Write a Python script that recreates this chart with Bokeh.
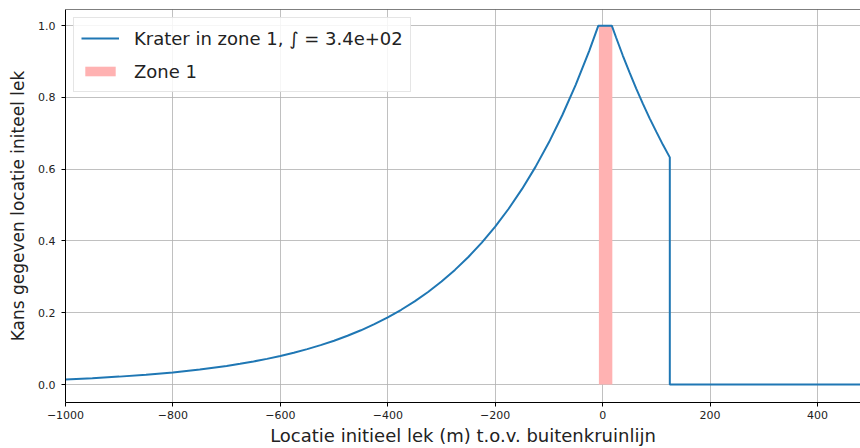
from bokeh.plotting import figure
from bokeh.models import Range1d, FixedTicker, Legend, LegendItem, Span, ColumnDataSource
from bokeh.embed import file_html
from bokeh.resources import INLINE

# ---- data ----
locatie = [-1000, -950, -900, -850, -800, -750, -700, -675, -650, -625, -600, -575, -550, -525,
           -500, -475, -450, -425, -400, -375, -350, -325, -300, -275, -250, -225, -200,
           -175, -150, -125, -100, -75, -50, -25, -8,
           17, 25, 37.5, 50, 62.5, 75, 87.5, 100, 112.5, 125, 125, 480]
kans = [0.0144, 0.0179, 0.0221, 0.0274, 0.0339, 0.0420, 0.0520, 0.0578, 0.0643, 0.0716, 0.0797, 0.0886, 0.0987, 0.1098,
        0.1221, 0.1359, 0.1512, 0.1683, 0.1873, 0.2084, 0.2318, 0.2580, 0.2871, 0.3195, 0.3555, 0.3956, 0.4402,
        0.4898, 0.5451, 0.6065, 0.6749, 0.7510, 0.8357, 0.9299, 1.0,
        1.0, 0.967, 0.9168, 0.870, 0.8246, 0.782, 0.7418, 0.704, 0.6672, 0.633, 0.0, 0.0]

zone_left = [-7]
zone_right = [18]
zone_bottom = [0.0]
zone_top = [1.0]

x_ticks = [-1000, -800, -600, -400, -200, 0, 200, 400]
x_tick_labels = ["\u22121000", "\u2212800", "\u2212600", "\u2212400", "\u2212200", "0", "200", "400"]
y_ticks = [0.0, 0.2, 0.4, 0.6, 0.8, 1.0]
y_tick_labels = ["0.0", "0.2", "0.4", "0.6", "0.8", "1.0"]

line_label = "Krater in zone 1, \u222b = 3.4e+02"
zone_label = "Zone 1"
x_label = "Locatie initieel lek (m) t.o.v. buitenkruinlijn"
y_label = "Kans gegeven locatie initeel lek"

FONT = "DejaVu Sans"

p = figure(width=860, height=448, output_backend="svg", toolbar_location=None,
           x_range=Range1d(-1000, 480), y_range=Range1d(-0.05, 1.045),
           min_border_left=65, min_border_right=0, min_border_top=9, min_border_bottom=46)
p.outline_line_color = None
p.background_fill_color = "white"
p.border_fill_color = "white"

zone_src = ColumnDataSource(dict(left=zone_left, right=zone_right, bottom=zone_bottom, top=zone_top))
r_zone = p.quad(left="left", right="right", bottom="bottom", top="top", source=zone_src,
                fill_color="#ffb2b2", line_color=None)
line_src = ColumnDataSource(dict(x=locatie, y=kans))
r_line = p.line("x", "y", source=line_src, line_color="#1f77b4", line_width=2)

# top spine
p.add_layout(Span(location=1.045, dimension="width", line_color="black", line_width=1))

for ax in (p.xaxis[0], p.yaxis[0]):
    ax.axis_line_color = "black"
    ax.axis_line_width = 1
    ax.major_tick_line_color = "black"
    ax.major_tick_out = 4
    ax.major_tick_in = 0
    ax.minor_tick_line_color = None
    ax.major_label_text_font = FONT
    ax.major_label_text_font_size = "11px"
    ax.major_label_text_color = "#222222"
    ax.axis_label_text_font = FONT
    ax.axis_label_text_font_style = "normal"
    ax.axis_label_text_color = "#222222"

p.xaxis.axis_label_text_font_size = "18px"
p.yaxis.axis_label_text_font_size = "17px"
p.xaxis.ticker = FixedTicker(ticks=x_ticks)
p.xaxis.major_label_overrides = dict(zip(x_ticks, x_tick_labels))
p.yaxis.ticker = FixedTicker(ticks=y_ticks)
p.yaxis.major_label_overrides = dict(zip(y_ticks, y_tick_labels))
p.xaxis.axis_label = x_label
p.yaxis.axis_label = y_label
p.xaxis.major_label_standoff = 4
p.xaxis.axis_label_standoff = 3
p.yaxis.major_label_standoff = 6
p.yaxis.axis_label_standoff = 7

p.xgrid.ticker = FixedTicker(ticks=x_ticks)
p.ygrid.ticker = FixedTicker(ticks=y_ticks)
for g in (p.xgrid[0], p.ygrid[0]):
    g.grid_line_color = "#b0b0b0"
    g.grid_line_width = 1
    g.grid_line_alpha = 0.8

legend = Legend(items=[LegendItem(label=line_label, renderers=[r_line]),
                       LegendItem(label=zone_label, renderers=[r_zone])],
                location="top_left")
legend.margin = 8
legend.padding = 7
legend.spacing = 7
legend.glyph_width = 38
legend.glyph_height = 12
legend.label_height = 26
legend.label_standoff = 15
legend.label_text_font = FONT
legend.label_text_font_size = "18px"
legend.label_text_color = "#222222"
legend.border_line_color = "#cccccc"
legend.border_line_width = 1
legend.background_fill_alpha = 0.85
p.add_layout(legend)

open("out.html", "w").write(file_html(p, INLINE))
